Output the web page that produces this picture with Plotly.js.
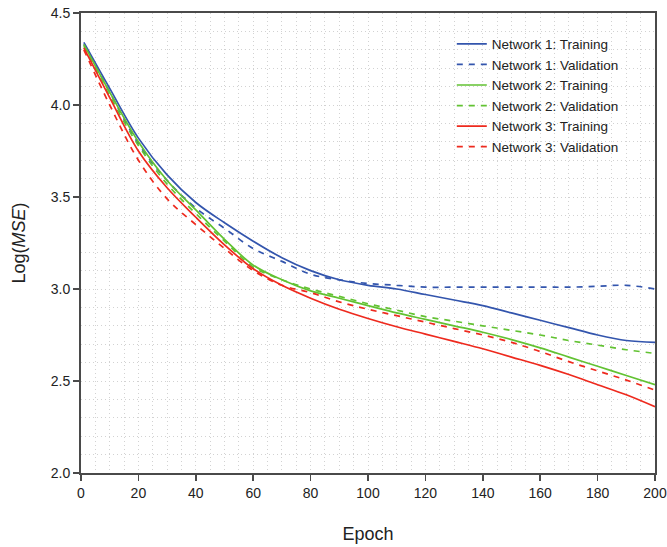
<!DOCTYPE html>
<html>
<head>
<meta charset="utf-8">
<script src="https://cdn.plot.ly/plotly-3.0.1.min.js"></script>
<style>html,body{margin:0;padding:0;background:#fff;}#chart{width:667px;height:547px;}</style>
</head>
<body>
<div id="chart"></div>
<script>
const epochs = [1,10,20,30,40,50,60,70,80,90,100,110,120,130,140,150,160,170,180,190,200];
const net1Train = [4.34,4.09,3.82,3.62,3.47,3.36,3.26,3.17,3.10,3.05,3.02,3.00,2.97,2.94,2.91,2.87,2.83,2.79,2.75,2.72,2.71];
const net1Val   = [4.33,4.07,3.79,3.59,3.44,3.33,3.22,3.15,3.08,3.05,3.03,3.02,3.01,3.01,3.01,3.01,3.01,3.01,3.015,3.02,3.00];
const net2Train = [4.33,4.07,3.80,3.59,3.43,3.27,3.13,3.05,2.99,2.95,2.91,2.87,2.835,2.80,2.765,2.725,2.68,2.63,2.58,2.53,2.48];
const net2Val   = [4.32,4.05,3.78,3.57,3.41,3.26,3.12,3.05,3.00,2.96,2.92,2.885,2.85,2.825,2.80,2.775,2.75,2.72,2.695,2.67,2.65];
const net3Train = [4.31,4.04,3.75,3.55,3.39,3.24,3.11,3.02,2.95,2.89,2.84,2.795,2.755,2.715,2.675,2.63,2.585,2.535,2.48,2.425,2.36];
const net3Val   = [4.30,4.00,3.70,3.49,3.35,3.22,3.10,3.02,2.98,2.93,2.89,2.855,2.82,2.785,2.75,2.71,2.66,2.605,2.555,2.505,2.45];
const names = ["Network 1: Training","Network 1: Validation","Network 2: Training","Network 2: Validation","Network 3: Training","Network 3: Validation"];

const BLUE = '#3355ad', GREEN = '#62c232', RED = '#ee2a1e';
const series = [
  [net1Train, BLUE, 'solid'], [net1Val, BLUE, 'dash'],
  [net2Train, GREEN, 'solid'], [net2Val, GREEN, 'dash'],
  [net3Train, RED, 'solid'], [net3Val, RED, 'dash']
];
const traces = series.map((s, i) => ({
  x: epochs, y: s[0], name: names[i], type: 'scatter', mode: 'lines',
  line: {color: s[1], width: 1.7, dash: s[2] === 'dash' ? '6px,6px' : 'solid', shape: 'spline', smoothing: 1}
}));

const gridc = '#d2d2d2';
const gdash = '1px,3px';
const axisCommon = {
  showline: true, linecolor: '#4a4a4a', linewidth: 2, mirror: true,
  ticks: 'outside', ticklen: 6, tickwidth: 1.5, tickcolor: '#4a4a4a',
  showgrid: true, gridcolor: gridc, griddash: gdash, gridwidth: 1,
  zeroline: false,
  tickfont: {family: 'Liberation Sans, Arial, sans-serif', size: 14, color: '#222'}
};
const layout = {
  width: 667, height: 547,
  margin: {l: 81, r: 12, t: 13, b: 74},
  paper_bgcolor: '#fff', plot_bgcolor: '#fff',
  font: {family: 'Liberation Sans, Arial, sans-serif', color: '#222'},
  showlegend: true,
  legend: {x: 0.646, y: 0.966, xanchor: 'left', yanchor: 'top', bgcolor: 'rgba(255,255,255,0)',
           font: {size: 13.5, color: '#222'}, tracegroupgap: 0, itemwidth: 30},
  xaxis: Object.assign({}, axisCommon, {
    range: [0, 200], dtick: 20, tick0: 0,
    minor: {dtick: 5, showgrid: true, gridcolor: gridc, griddash: gdash, gridwidth: 1, ticks: ''},
    title: {text: 'Epoch', font: {size: 18, color: '#222'}, standoff: 28}
  }),
  yaxis: Object.assign({}, axisCommon, {
    range: [2.0, 4.5], dtick: 0.5, tick0: 2.0, tickformat: '.1f',
    minor: {dtick: 0.1, showgrid: true, gridcolor: gridc, griddash: gdash, gridwidth: 1, ticks: ''},
    title: {text: 'Log(<i>MSE</i>)', font: {size: 18, color: '#222'}, standoff: 20}
  })
};
Plotly.newPlot('chart', traces, layout, {displayModeBar: false, staticPlot: true});
</script>
</body>
</html>
